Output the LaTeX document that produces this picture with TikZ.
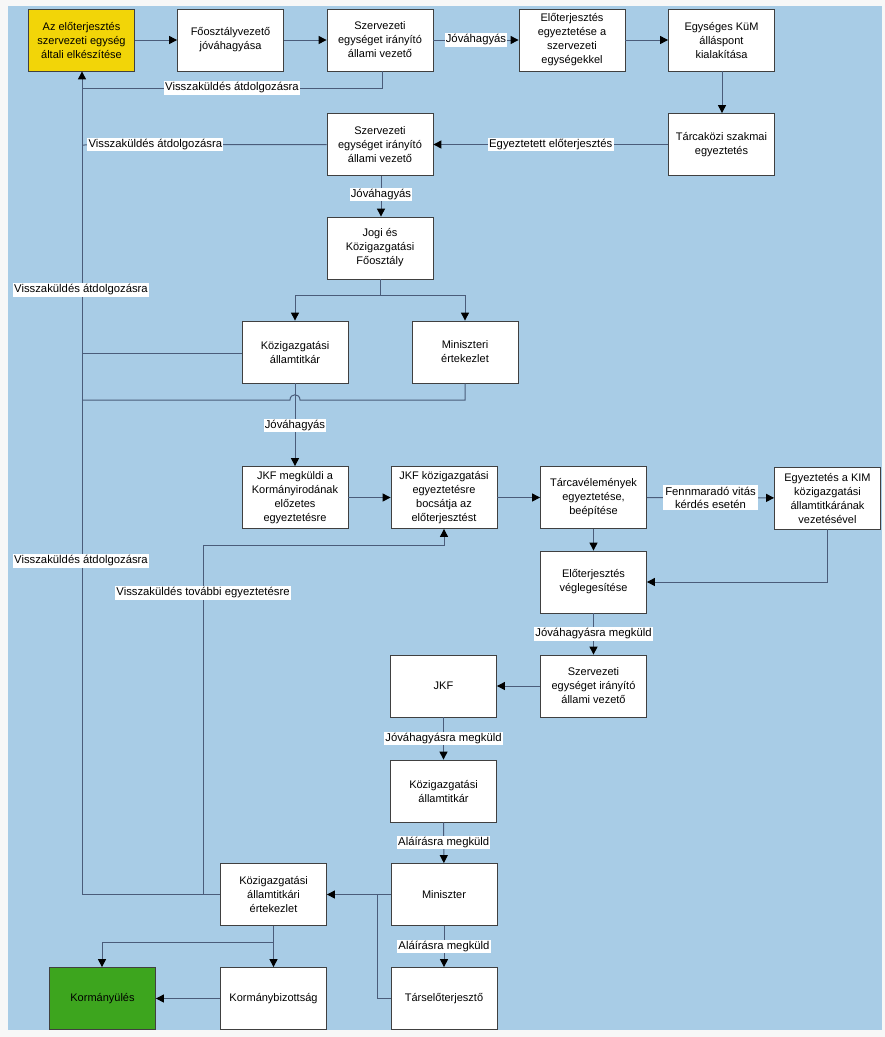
\documentclass[tikz,border=0pt]{standalone}
\usepackage{fontspec}
\setmainfont{Liberation Sans}
\usetikzlibrary{arrows.meta}
\definecolor{bgblue}{HTML}{A8CCE6}
\definecolor{outer}{HTML}{F7F7F7}
\definecolor{linec}{HTML}{4A5C7A}
\definecolor{yelbox}{HTML}{F2D508}
\definecolor{grnbox}{HTML}{3DA51E}
\tikzset{
  box/.style={draw=black!75, line width=0.8pt, fill=white, minimum width=106pt, minimum height=62pt,
    align=center, inner sep=2pt, font=\fontsize{11}{14}\selectfont},
  lbl/.style={fill=white, inner sep=1.2pt, font=\fontsize{11.3}{13}\selectfont, align=center, text=black},
  conn/.style={draw=linec, line width=1pt},
  arr/.style={conn, -{Triangle[length=8pt,width=8pt,color=black]}},
}
\begin{document}
\begin{tikzpicture}[x=1pt,y=-1pt]
\useasboundingbox (0,0) rectangle (885,1037);
\fill[outer] (0,0) rectangle (885,1037);
\fill[bgblue] (8,6) rectangle (882,1030);
\begin{scope}
\clip (8,6) rectangle (882,1030);
% nodes
\node[box, fill=yelbox] (b1) at (81.5,40) {Az előterjesztés\\szervezeti egység\\általi elkészítése};
\node[box] (b2) at (230.5,40) {Főosztályvezető\\jóváhagyása};
\node[box] (b3) at (380,40) {Szervezeti\\egységet irányító\\állami vezető};
\node[box] (b4) at (572,40) {Előterjesztés\\egyeztetése a\\szervezeti\\egységekkel};
\node[box] (b5) at (721.5,40) {Egységes KüM\\álláspont\\kialakítása};
\node[box] (b6) at (721.5,144.5) {Tárcaközi szakmai\\egyeztetés};
\node[box] (b7) at (380,144.5) {Szervezeti\\egységet irányító\\állami vezető};
\node[box] (b8) at (380,248) {Jogi és\\Közigazgatási\\Főosztály};
\node[box] (b9) at (295,352) {Közigazgatási\\államtitkár};
\node[box] (b10) at (465,352) {Miniszteri\\értekezlet};
\node[box] (b11) at (295,497.5) {JKF megküldi a\\Kormányirodának\\előzetes\\egyeztetésre};
\node[box] (b12) at (444,497.5) {JKF közigazgatási\\egyeztetésre\\bocsátja az\\előterjesztést};
\node[box] (b13) at (593.5,497.5) {Tárcavélemények\\egyeztetése,\\beépítése};
\node[box] (b14) at (827.5,498) {Egyeztetés a KIM\\közigazgatási\\államtitkárának\\vezetésével};
\node[box] (b15) at (593.5,582) {Előterjesztés\\véglegesítése};
\node[box] (b16) at (593.5,686) {Szervezeti\\egységet irányító\\állami vezető};
\node[box] (b17) at (443.5,686) {JKF};
\node[box] (b18) at (443.5,791) {Közigazgatási\\államtitkár};
\node[box] (b19) at (444,894.5) {Miniszter};
\node[box] (b20) at (273.5,894.5) {Közigazgatási\\államtitkári\\értekezlet};
\node[box] (b21) at (444,998.5) {Társelőterjesztő};
\node[box] (b22) at (273.5,998.5) {Kormánybizottság};
\node[box, fill=grnbox] (b23) at (102.5,998.5) {Kormányülés};
% junction coordinates
\coordinate (fbA) at (82,88);
\coordinate (fbB) at (82,145);
\coordinate (fbEnd) at (82,894.5);
\coordinate (tvBot) at (203,894.5);
\coordinate (tvTop) at (203,545);
\coordinate (tvR) at (444,545);
% top row
\draw[arr] (b1) -- (b2);
\draw[arr] (b2) -- (b3);
\draw[arr] (b3) -- node[lbl, pos=0.5] {Jóváhagyás} (b4);
\draw[arr] (b4) -- (b5);
\draw[arr] (b5.south -| 722,0) -- (b6.north -| 722,0);
\draw[arr] (b6) -- node[lbl, pos=0.5] {Egyeztetett előterjesztés} (b7);
% feedback lines
\draw[arr] (b3.south -| 382,0) |- (fbA) -- (b1.south -| fbA);
\path (fbA) -- node[lbl, pos=0.5] {Visszaküldés átdolgozásra} (382,88);
\draw[conn] (b7.west) -- node[lbl, pos=0.7] {Visszaküldés átdolgozásra} (fbB);
\draw[conn] (fbA) -- (fbEnd);
\node[lbl] (l1) at (81,290) {Visszaküldés átdolgozásra};
\node[lbl] (l2) at (81,561) {Visszaküldés átdolgozásra};
% Jogi
\draw[arr] (b7.south -| 381,0) -- node[lbl, pos=0.45] {Jóváhagyás} (b8.north -| 381,0);
\draw[conn] (b8.south) -- (380,295);
\draw[arr] (295,295) -- (b9.north);
\draw[arr] (465,295) -- (b10.north);
\draw[conn] (295,295) -- (465,295);
\draw[conn] (b9.west |- 0,353) -- (82,353);
\draw[conn] (b10.south) -- (465,400) -- (300,400) .. controls (300,393) and (290,393) .. (290,400) -- (82,400);
\draw[arr] (b9.south) -- node[lbl, pos=0.51] {Jóváhagyás} (b11.north);
% middle row
\draw[arr] (b11) -- (b12);
\draw[arr] (b12) -- (b13);
\draw[arr] (b13) -- node[lbl, pos=0.5, inner sep=2pt] {Fennmaradó vitás\\kérdés esetén} (b14);
\draw[arr] (b13) -- (b15);
\draw[arr] (b14.south) |- (b15.east);
\draw[arr] (tvBot) -- (tvTop) -- (tvR) -- (b12.south);
\node[lbl] (l3) at (203,593) {Visszaküldés további egyeztetésre};
% lower chain
\draw[arr] (b15) -- node[lbl, pos=0.5] {Jóváhagyásra megküld} (b16);
\draw[arr] (b16) -- (b17);
\draw[arr] (b17) -- node[lbl, pos=0.5] {Jóváhagyásra megküld} (b18);
\draw[arr] (b18) -- node[lbl, pos=0.5] {Aláírásra megküld} (b19);
\draw[arr] (b19) -- (b20);
\draw[arr] (b19) -- node[lbl, pos=0.5] {Aláírásra megküld} (b21);
\draw[conn] (b21.west) -- (377,998.5) -- (377,894.5);
\draw[conn] (b20.west) -- (fbEnd);
% bottom
\draw[conn] (b20.south) -- (273.5,942);
\draw[arr] (273.5,942) -- (b22.north);
\draw[arr] (273.5,942) -- (102,942) -- (b23.north -| 102,0);
\draw[arr] (b22) -- (b23);
\end{scope}
\end{tikzpicture}
\end{document}
